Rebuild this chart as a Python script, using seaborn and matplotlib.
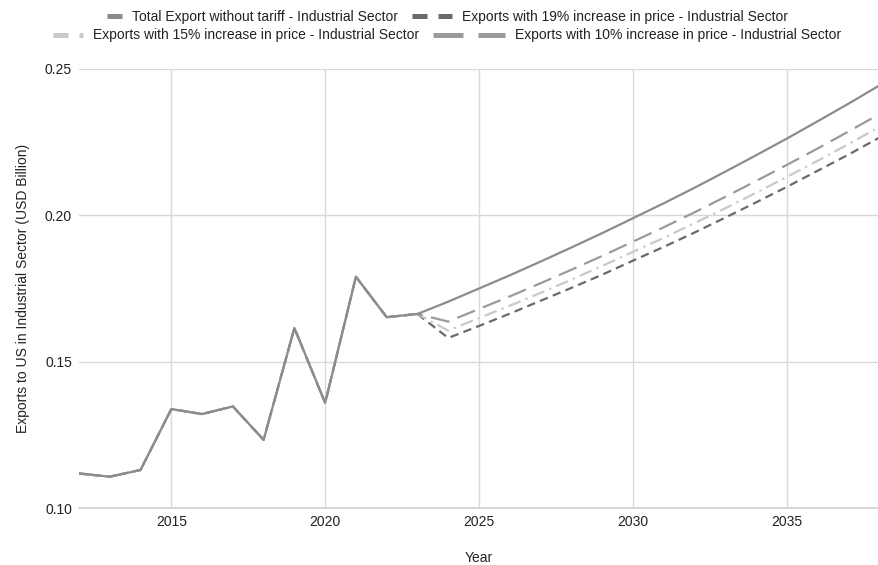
import matplotlib
matplotlib.use("Agg")
import matplotlib.pyplot as plt
from matplotlib.lines import Line2D
import seaborn as sns
import pandas as pd

# Historical exports (2012-2023) and projections (2024-2038), USD billion
hist_years = list(range(2012, 2024))
hist_values = [0.1118, 0.1107, 0.1130, 0.1338, 0.1321, 0.1347, 0.1233,
               0.1615, 0.1359, 0.1790, 0.1652, 0.1663]

proj_years = list(range(2024, 2039))
total_no_tariff = [0.1705, 0.1750, 0.1795, 0.1842, 0.1890, 0.1939, 0.1990,
                   0.2041, 0.2094, 0.2149, 0.2205, 0.2262, 0.2321, 0.2381, 0.2443]
increase_19 = [0.1581, 0.1622, 0.1664, 0.1708, 0.1752, 0.1797, 0.1845,
               0.1892, 0.1941, 0.1992, 0.2044, 0.2097, 0.2152, 0.2207, 0.2265]
increase_15 = [0.1606, 0.1649, 0.1691, 0.1735, 0.1780, 0.1827, 0.1875,
               0.1923, 0.1973, 0.2024, 0.2077, 0.2131, 0.2186, 0.2243, 0.2301]
increase_10 = [0.1637, 0.1680, 0.1723, 0.1768, 0.1814, 0.1861, 0.1910,
               0.1959, 0.2010, 0.2063, 0.2117, 0.2172, 0.2228, 0.2286, 0.2345]

labels = [
    "Total Export without tariff - Industrial Sector",
    "Exports with 19% increase in price - Industrial Sector",
    "Exports with 15% increase in price - Industrial Sector",
    "Exports with 10% increase in price - Industrial Sector",
]
colors = ["#8c8c8c", "#6a6a6a", "#c9c9c9", "#9a9a9a"]
dash_styles = ["-", (0, (3.8, 2.4)), (0, (5.8, 2.4, 1.0, 2.4)), (0, (8.6, 3.8))]

# legend swatches: dash pattern (in swatch line widths), swatch length (em),
# and left position / row in pixels
swatch_dashes = ["-", (0, (3.0, 2.2)), (0, (3.0, 2.2, 1.0, 2.2)), (0, (6.0, 3.0))]
swatch_len = [1.08, 2.9, 2.16, 5.2]
swatch_pos = [(107, 16.5), (412, 16.5), (53, 35.5), (433, 35.5)]

sns.set_theme(style="white")
plt.rcParams["font.family"] = ["Liberation Sans", "DejaVu Sans"]

W, H = 879, 565
years = hist_years + proj_years
series = [total_no_tariff, increase_19, increase_15, increase_10]

fig = plt.figure(figsize=(W / 100, H / 100), dpi=100)
ax = fig.add_axes([79 / W, 1 - 508 / H, (W - 79) / W, (508 - 69) / H])

# draw back-to-front so the solid baseline stays on top
for i in [1, 2, 3, 0]:
    df = pd.DataFrame({"Year": years, "Value": hist_values + series[i]})
    sns.lineplot(data=df, x="Year", y="Value", ax=ax, color=colors[i],
                 linestyle=dash_styles[i], linewidth=1.6, legend=False)

ax.set_xlim(2012, 2038)
ax.set_ylim(0.10, 0.25)
ax.set_xticks([2015, 2020, 2025, 2030, 2035])
ax.set_yticks([0.10, 0.15, 0.20, 0.25])
ax.set_yticklabels(["0.10", "0.15", "0.20", "0.25"])
ax.tick_params(axis="both", labelsize=10, colors="#222222", length=0, pad=5)
ax.grid(True, color="#d9d9d9", linewidth=1.0)
for s in ["top", "right", "left"]:
    ax.spines[s].set_visible(False)
ax.spines["bottom"].set_color("#cfcfcf")
ax.spines["bottom"].set_linewidth(1.2)

ax.set_xlabel("Year", fontsize=10, color="#222222", labelpad=16)
ax.set_ylabel("Exports to US in Industrial Sector (USD Billion)", fontsize=10,
              color="#222222", labelpad=11)

# one centered-row legend entry per series, Sheets-style swatches
for i in range(4):
    handle = Line2D([], [], color=colors[i], linestyle=swatch_dashes[i],
                    linewidth=3.6, solid_capstyle="butt", dash_capstyle="butt")
    x_px, y_px = swatch_pos[i]
    fig.legend([handle], [labels[i]], loc="center left",
               bbox_to_anchor=(x_px / W, 1 - y_px / H), frameon=False,
               fontsize=10, handlelength=swatch_len[i], handletextpad=0.7,
               borderpad=0, borderaxespad=0, labelcolor="#222222")

fig.savefig("out.png", dpi=100)
